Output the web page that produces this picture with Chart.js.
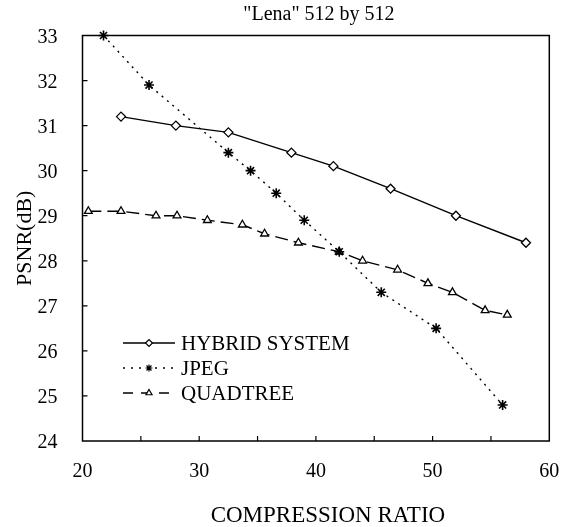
<!DOCTYPE html>
<html>
<head>
<meta charset="utf-8">
<script src="https://cdn.jsdelivr.net/npm/chart.js@4/dist/chart.umd.min.js"></script>
<style>
  html, body { margin: 0; padding: 0; background: #fff; }
  #wrap { width: 574px; height: 527px; }
</style>
</head>
<body>
<div id="wrap"><canvas id="c" width="574" height="527"></canvas></div>
<script>
const titleText = '"Lena" 512 by 512';
const xTitle = 'COMPRESSION RATIO';
const yTitle = 'PSNR(dB)';
const seriesNames = ['HYBRID SYSTEM', 'JPEG', 'QUADTREE'];

const hybridX = [23.3, 28.0, 32.5, 37.9, 41.5, 46.4, 52.0, 58.0];
const hybridY = [31.2, 31.0, 30.85, 30.4, 30.1, 29.6, 29.0, 28.4];

const jpegX = [21.8, 25.7, 32.5, 34.4, 36.6, 39.0, 42.0, 45.6, 50.3, 56.0];
const jpegY = [33.0, 31.9, 30.4, 30.0, 29.5, 28.9, 28.2, 27.3, 26.5, 24.8];

const quadX = [20.5, 23.3, 26.3, 28.1, 30.7, 33.7, 35.6, 38.5, 42.0, 44.0, 47.0, 49.6, 51.7, 54.5, 56.4];
const quadY = [29.1, 29.1, 29.0, 29.0, 28.9, 28.8, 28.6, 28.4, 28.2, 28.0, 27.8, 27.5, 27.3, 26.9, 26.8];

const xTickValues = [20, 30, 40, 50, 60];
const yTickValues = [24, 25, 26, 27, 28, 29, 30, 31, 32, 33];
const xMinorTicks = [25, 30, 35, 40, 45, 50, 55];
const yMinorTicks = [25, 26, 27, 28, 29, 30, 31, 32];

const pts = (xs, ys) => xs.map((x, i) => ({x: x, y: ys[i]}));
const FONT = "'Liberation Serif', 'Times New Roman', serif";

const framePlugin = {
  id: 'frame',
  beforeDatasetsDraw(chart) {
    const {ctx, chartArea: a, scales} = chart;
    ctx.save();
    ctx.strokeStyle = '#000';
    ctx.lineWidth = 1.5;
    ctx.strokeRect(a.left, a.top, a.right - a.left, a.bottom - a.top);
    ctx.lineWidth = 1.2;
    ctx.beginPath();
    xMinorTicks.forEach(v => {
      const px = scales.x.getPixelForValue(v);
      ctx.moveTo(px, a.bottom);
      ctx.lineTo(px, a.bottom - 5);
    });
    yMinorTicks.forEach(v => {
      const py = scales.y.getPixelForValue(v);
      ctx.moveTo(a.left, py);
      ctx.lineTo(a.left + 5, py);
    });
    ctx.stroke();
    ctx.restore();
  },
  afterDraw(chart) {
    const {ctx, chartArea: a} = chart;
    ctx.save();
    ctx.fillStyle = '#000';
    ctx.textAlign = 'center';
    ctx.textBaseline = 'middle';
    ctx.font = '20px ' + FONT;
    ctx.fillText(titleText, (a.left + a.right) / 2 + 3, 15);
    ctx.font = '23px ' + FONT;
    ctx.fillText(xTitle, (a.left + a.right) / 2 + 12, 516);
    ctx.restore();
  }
};

const legendPlugin = {
  id: 'inLegend',
  afterDatasetsDraw(chart) {
    const {ctx} = chart;
    const rows = [343, 368, 393];
    const x0 = 123, x1 = 175, xm = 149, tx = 181;
    ctx.save();
    chart.data.datasets.forEach((ds, i) => {
      const y = rows[i];
      ctx.strokeStyle = '#000';
      ctx.lineWidth = ds.borderWidth;
      ctx.setLineDash(ds.legendDash || []);
      ctx.beginPath();
      ctx.moveTo(x0, y);
      ctx.lineTo(x1, y);
      ctx.stroke();
      ctx.setLineDash([]);
      ctx.fillStyle = '#fff';
      ctx.strokeStyle = '#000';
      ctx.lineWidth = 1.2;
      Chart.helpers.drawPoint(ctx, {pointStyle: ds.pointStyle, rotation: 0, radius: 3.5, borderWidth: 1.2}, xm, y);
      ctx.fillStyle = '#000';
      ctx.font = '21px ' + FONT;
      ctx.textAlign = 'left';
      ctx.textBaseline = 'middle';
      ctx.fillText(ds.label, tx, y + 1);
    });
    ctx.restore();
  }
};

new Chart(document.getElementById('c'), {
  type: 'scatter',
  data: {
    datasets: [
      {
        label: seriesNames[0],
        data: pts(hybridX, hybridY),
        showLine: true,
        borderColor: '#000',
        backgroundColor: '#fff',
        borderWidth: 1.4,
        pointStyle: 'rectRot',
        pointRadius: 4.5,
        pointBorderWidth: 1.3,
        pointBackgroundColor: '#fff',
        pointBorderColor: '#000',
        legendDash: [],
        clip: false
      },
      {
        label: seriesNames[1],
        data: pts(jpegX, jpegY),
        showLine: true,
        borderColor: '#000',
        backgroundColor: '#fff',
        borderWidth: 1.4,
        borderDash: [2, 5],
        pointStyle: 'star',
        pointRadius: 5,
        pointBorderWidth: 1.6,
        pointBackgroundColor: '#fff',
        pointBorderColor: '#000',
        legendDash: [2, 6],
        clip: false
      },
      {
        label: seriesNames[2],
        data: pts(quadX, quadY),
        showLine: true,
        borderColor: '#000',
        backgroundColor: '#fff',
        borderWidth: 1.4,
        borderDash: [13, 6],
        pointStyle: 'triangle',
        pointRadius: 4.5,
        pointBorderWidth: 1.3,
        pointBackgroundColor: '#fff',
        pointBorderColor: '#000',
        legendDash: [10, 8],
        clip: false
      }
    ]
  },
  options: {
    responsive: false,
    animation: false,
    devicePixelRatio: 1,
    layout: { padding: { left: 0, right: 24.7, top: 35.5, bottom: 0 } },
    plugins: {
      legend: { display: false },
      tooltip: { enabled: false },
      title: { display: false }
    },
    scales: {
      x: {
        type: 'linear',
        min: 20, max: 60,
        afterBuildTicks: s => { s.ticks = xTickValues.map(v => ({value: v})); },
        afterFit: s => { s.height = 527 - 35.5 - 405.5; },
        grid: { display: false },
        border: { display: false },
        ticks: { color: '#000', font: { family: FONT, size: 20 }, padding: 11, maxRotation: 0 },
        title: { display: false }
      },
      y: {
        type: 'linear',
        min: 24, max: 33,
        afterBuildTicks: s => { s.ticks = yTickValues.map(v => ({value: v})); },
        afterFit: s => { s.width = 82.5; },
        grid: { display: false },
        border: { display: false },
        ticks: { color: '#000', font: { family: FONT, size: 20 }, padding: 17, labelOffset: 2 },
        title: {
          display: true, text: yTitle, color: '#000',
          font: { family: FONT, size: 22 },
          padding: { top: 12, bottom: 0 }
        }
      }
    }
  },
  plugins: [framePlugin, legendPlugin]
});
</script>
</body>
</html>
